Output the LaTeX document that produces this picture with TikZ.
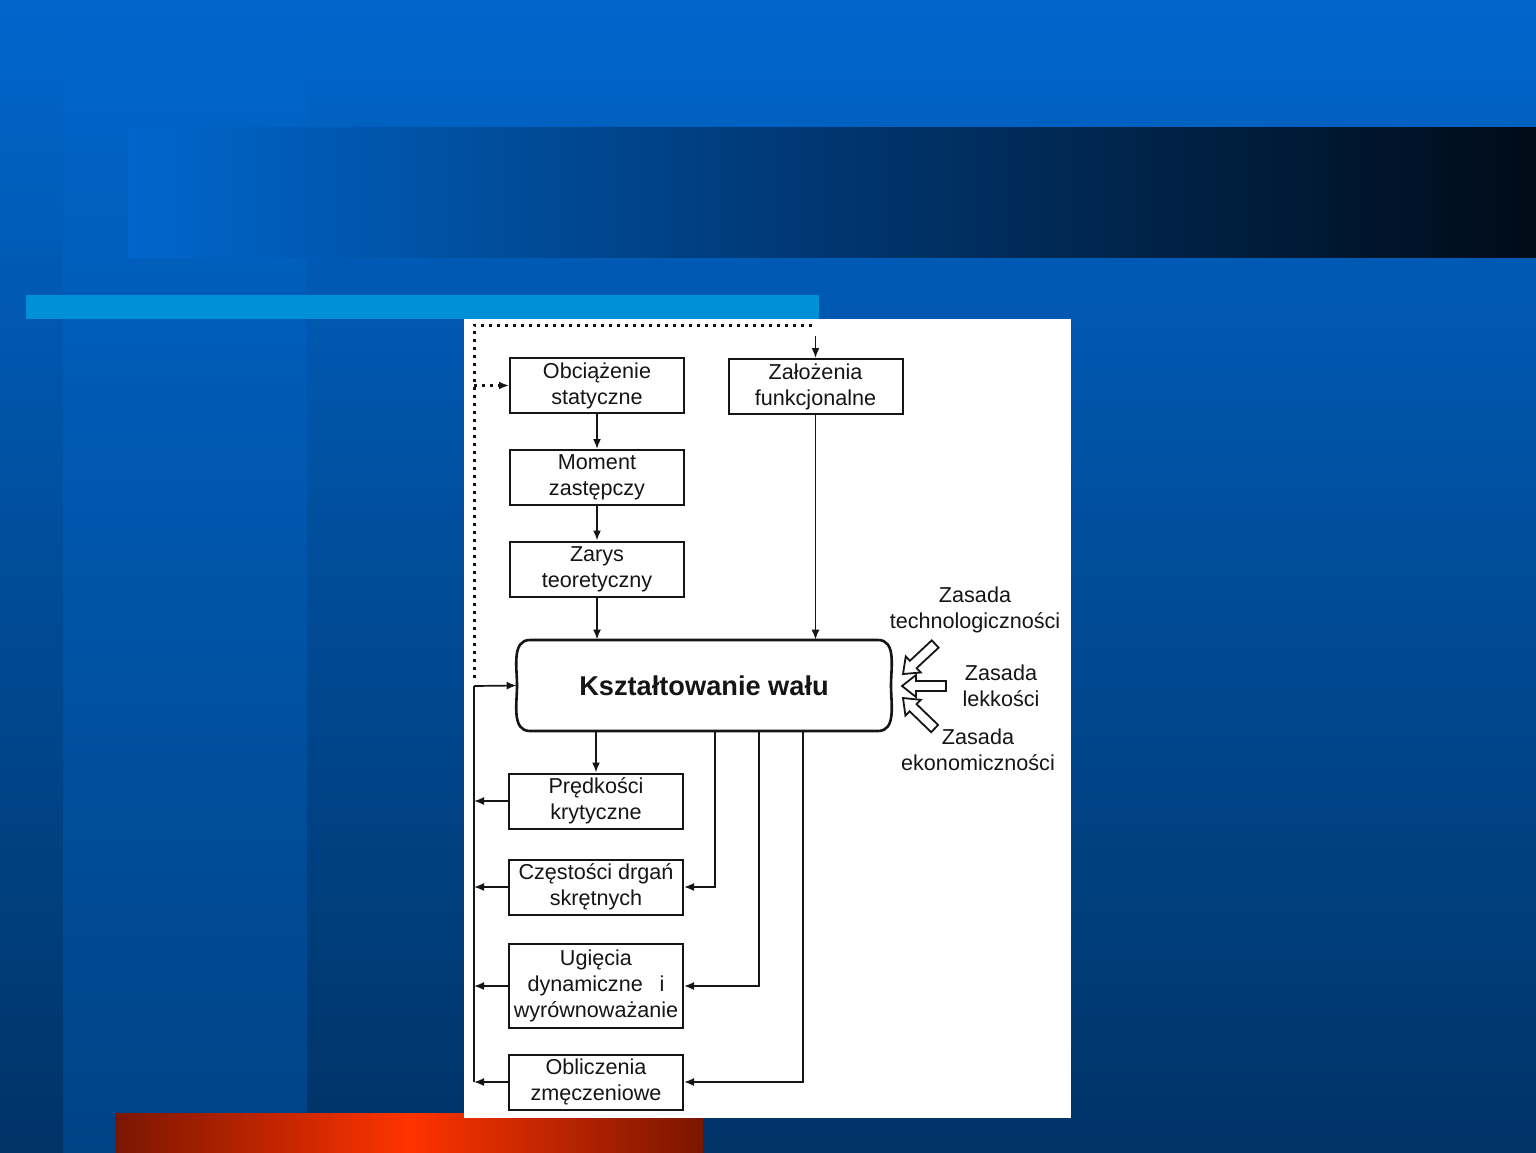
\documentclass[tikz,border=0pt]{standalone}
\usepackage{fontspec}
\setmainfont{Liberation Sans}
\usetikzlibrary{arrows.meta,calc}
\definecolor{bgtop}{HTML}{0066CC}
\definecolor{bgbot}{HTML}{003366}
\definecolor{bandbot}{HTML}{004385}
\definecolor{titleR}{HTML}{000B18}
\definecolor{titleM}{HTML}{003670}
\definecolor{lightbar}{HTML}{0090D8}
\definecolor{redM}{HTML}{FF3300}
\definecolor{redE}{HTML}{7A1600}
\definecolor{ink}{HTML}{151515}
\begin{document}
\begin{tikzpicture}[x=0.5pt,y=-0.5pt,
  box/.style={draw=ink, line width=1pt, fill=white, minimum width=87pt, minimum height=27.5pt,
    inner sep=0pt, align=center, text=ink, font=\fontsize{10.8}{13}\selectfont},
  lbl/.style={inner sep=0pt, align=center, text=ink, font=\fontsize{10.8}{13}\selectfont},
  conn/.style={draw=ink, line width=0.85pt, -{Latex[length=5pt,width=4pt]}},
  plain/.style={draw=ink, line width=0.85pt},
  dots/.style={draw=ink, line width=1.5pt, dash pattern=on 1.5pt off 2.5pt},
  hollow/.style={draw=ink, line width=0.9pt, fill=white, line join=miter}]
\useasboundingbox (0,0) rectangle (1536,1152);
% background
\shade[top color=bgtop, bottom color=bgbot] (0,0) rectangle (1536,1152);
\shade[top color=bgtop, bottom color=bandbot] (63,0) rectangle (307,1152);
\shade[left color=bgtop, right color=titleR, middle color=titleM] (128,127) rectangle (1536,257);
\fill[lightbar] (26,295) rectangle (819,319);
\shade[left color=redE, right color=redE, middle color=redM] (115,1113) rectangle (703,1152);
\fill[white] (464,319) rectangle (1071,1118);

% nodes
\node[box] (obc) at (597,385.5) {Obciążenie\\statyczne};
\node[box] (zal) at (815.5,386.5) {Założenia\\funkcjonalne};
\node[box] (mom) at (597,477.5) {Moment\\zastępczy};
\node[box] (zar) at (597,569) {Zarys\\teoretyczny};
\node[inner sep=0pt, minimum width=187pt, minimum height=45.5pt, text=ink,
  font=\fontsize{13.6}{16}\selectfont\bfseries] (ksz) at (704,685.5) {Kształtowanie wału};
\draw[ink, line width=1.3pt] (530,640) -- (878,640) to[out=0,in=90] (891,685.5)
  to[out=-90,in=0] (878,731) -- (530,731) to[out=180,in=-90] (517,685.5)
  to[out=90,in=180] (530,640) -- cycle;
\node[box] (pre) at (596,801) {Prędkości\\krytyczne};
\node[box] (cze) at (596,887) {Częstości drgań\\skrętnych};
\node[box, minimum height=42pt] (ugi) at (596,986) {Ugięcia\\dynamiczne\enspace\ i\\wyrównoważanie};
\node[box] (obl) at (596,1082) {Obliczenia\\zmęczeniowe};

\node[lbl] (zt) at (975,610) {Zasada\\technologiczności};
\node[lbl] (zl) at (1001,686) {Zasada\\lekkości};
\node[lbl] (ze) at (978,750) {Zasada\\ekonomiczności};

% hollow arrows
\draw[hollow, shift={(903,674)}, rotate=43] (0,0) -- (14,-11) -- (14,-5) -- (44,-5) -- (44,5) -- (14,5) -- (14,11) -- cycle;
\draw[hollow, shift={(902,686)}] (0,0) -- (14,-11) -- (14,-5) -- (44,-5) -- (44,5) -- (14,5) -- (14,11) -- cycle;
\draw[hollow, shift={(903,698)}, rotate=-44] (0,0) -- (14,-11) -- (14,-5) -- (44,-5) -- (44,5) -- (14,5) -- (14,11) -- cycle;

% coordinates
\coordinate (dtopL) at (474,325);
\coordinate (dtopR) at (815.5,325);
\coordinate (dbot) at (474,678);
\coordinate (dend) at (815.5,336);
\coordinate (fbtop) at (474,686);
\coordinate (fbbot) at (474,1082);
\coordinate (t1) at (715,731);
\coordinate (t2) at (759,731);
\coordinate (t3) at (803,731);

% connectors
\draw[conn] (obc) -- (mom);
\draw[conn] (mom) -- (zar);
\draw[conn] (zar.south) -- (zar.south |- ksz.north);
\draw[conn] (zal.south) -- (zal.south |- ksz.north);
\draw[conn] (pre.north |- ksz.south) -- (pre.north);
\draw[conn] (t1) |- (cze.east);
\draw[conn] (t2) |- (ugi.east);
\draw[conn] (t3) |- (obl.east);
\draw[plain] (fbbot) -- (fbtop);
\draw[conn] (fbtop) -- (ksz.west);
\draw[conn] (pre.west) -- (pre.west -| fbtop);
\draw[conn] (cze.west) -- (cze.west -| fbtop);
\draw[conn] (ugi.west) -- (ugi.west -| fbtop);
\draw[conn] (obl.west) -- (obl.west -| fbtop);
\draw[dots] (dbot) -- (dtopL) -- (dtopR);
\draw[conn] (dend) -- (zal.north);
\draw[dots, -{Latex[length=5pt,width=4pt]}] (obc.west -| dtopL) -- (obc.west);
\end{tikzpicture}
\end{document}
